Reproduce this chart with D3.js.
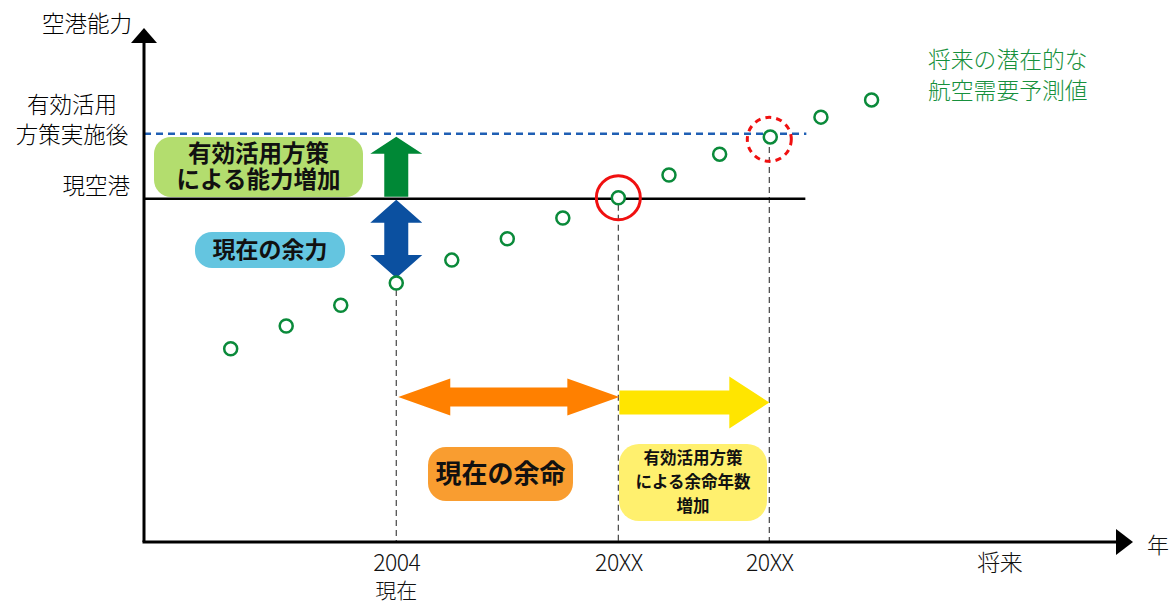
<!DOCTYPE html>
<html>
<head>
<meta charset="utf-8">
<title>空港能力</title>
<script src="https://d3js.org/d3.v7.min.js"></script>
<style>
  body{margin:0;background:#fff;}
  svg{display:block;}
  text{font-family:"Noto Sans CJK JP","Noto Sans",sans-serif;}
</style>
</head>
<body>
<div id="chart"></div>
<script>
// demand forecast (time units 0-100 along the x axis, capacity units 0-100)
var years  = [8.9, 14.6, 20.2, 25.9, 31.6, 37.3, 43.0, 48.7, 53.9, 59.1, 64.3, 69.5, 74.7]
var demand = [38.1, 42.6, 46.7, 51.1, 55.6, 59.8, 63.9, 67.9, 72.4, 76.5, 79.9, 83.8, 87.2]

var capNow = 67.7      // 現空港
var capAfter = 80.5    // 有効活用方策実施後
var capLineEnd = 67.9

var tickPos = [25.9, 48.7, 64.2, 87.8]
var tickLabels = ['2004', '20XX', '20XX', '将来']
var yLabels = ['空港能力', '現空港']

var W = 1173, H = 605
var x = d3.scaleLinear().domain([0, 100]).range([144, 1118])
var y = d3.scaleLinear().domain([0, 100]).range([542, 35])

var svg = d3.select('#chart').append('svg').attr('width', W).attr('height', H)

// arrow polygon from (x1,y1) to (x2,y2)
function arrowPath(x1, y1, x2, y2, shaft, head, headLen, both){
  var dx = x2 - x1, dy = y2 - y1
  var L = Math.sqrt(dx*dx + dy*dy)
  var ux = dx/L, uy = dy/L, nx = -uy, ny = ux
  function p(a, b){ return [x1 + ux*a + nx*b, y1 + uy*a + ny*b] }
  var s = shaft/2, h = head/2
  var pts = []
  if(both){
    pts.push(p(0, 0), p(headLen, h), p(headLen, s))
  } else {
    pts.push(p(0, s))
  }
  pts.push(p(L - headLen, s), p(L - headLen, h), p(L, 0), p(L - headLen, -h), p(L - headLen, -s))
  if(both){
    pts.push(p(headLen, -s), p(headLen, -h))
  } else {
    pts.push(p(0, -s))
  }
  return 'M' + pts.map(function(d){ return d.join(',') }).join('L') + 'Z'
}

// vertical guide lines
var guides = [[years[3], demand[3]], [years[7], demand[7]], [tickPos[2], capAfter - 1.2]]
svg.selectAll('line.guide').data(guides).enter().append('line')
  .attr('class', 'guide')
  .attr('x1', function(d){ return x(d[0]) }).attr('x2', function(d){ return x(d[0]) })
  .attr('y1', function(d){ return y(d[1]) + 7 }).attr('y2', y(0))
  .attr('stroke', '#444').attr('stroke-width', 1.2).attr('stroke-dasharray', '6,4')

// capacity lines
svg.append('line')
  .attr('x1', x(0)).attr('x2', x(68.0)).attr('y1', y(capAfter)).attr('y2', y(capAfter))
  .attr('stroke', '#1f5fb4').attr('stroke-width', 2.5).attr('stroke-dasharray', '7,5')
svg.append('line')
  .attr('x1', x(0)).attr('x2', x(capLineEnd)).attr('y1', y(capNow)).attr('y2', y(capNow))
  .attr('stroke', '#000').attr('stroke-width', 2.5)

// axes
svg.append('line').attr('x1', x(0)).attr('x2', x(0)).attr('y1', y(0)).attr('y2', y(100) + 6)
  .attr('stroke', '#000').attr('stroke-width', 3)
svg.append('path').attr('d', 'M' + (x(0) - 13) + ',' + (y(100) + 8) + 'L' + x(0) + ',' + (y(100) - 7) + 'L' + (x(0) + 13) + ',' + (y(100) + 8) + 'Z')
  .attr('fill', '#000')
svg.append('line').attr('x1', x(0) - 1.5).attr('x2', x(100) + 2).attr('y1', y(0)).attr('y2', y(0))
  .attr('stroke', '#000').attr('stroke-width', 3)
svg.append('path').attr('d', 'M' + (x(100) - 2) + ',' + (y(0) - 13) + 'L' + (x(100) + 15) + ',' + y(0) + 'L' + (x(100) - 2) + ',' + (y(0) + 13) + 'Z')
  .attr('fill', '#000')

var xAxis = svg.append('g').attr('transform', 'translate(0,' + y(0) + ')')
  .call(d3.axisBottom(x).tickValues(tickPos).tickSize(0).tickPadding(13)
    .tickFormat(function(d, i){ return tickLabels[i] }))
xAxis.select('.domain').remove()
xAxis.selectAll('text').attr('font-size', 23).attr('fill', '#111').attr('font-weight', 300)
  .attr('font-family', '"Noto Sans CJK JP",sans-serif').attr('letter-spacing', -0.5)
svg.append('text').attr('x', x(tickPos[0])).attr('y', 598).attr('text-anchor', 'middle')
  .attr('font-size', 21).attr('font-weight', 300).attr('fill', '#111').text('現在')
svg.append('text').attr('x', 1158).attr('y', 553).attr('text-anchor', 'middle')
  .attr('font-size', 22).attr('font-weight', 300).attr('fill', '#111').text('年')

// y side labels
svg.append('text').attr('x', 132).attr('y', 32).attr('text-anchor', 'end')
  .attr('font-size', 22.5).attr('font-weight', 300).text(yLabels[0])
svg.append('text').attr('x', 72).attr('y', 113).attr('text-anchor', 'middle')
  .attr('font-size', 22.5).attr('font-weight', 300).text('有効活用')
svg.append('text').attr('x', 72).attr('y', 143).attr('text-anchor', 'middle')
  .attr('font-size', 22.5).attr('font-weight', 300).text('方策実施後')
svg.append('text').attr('x', 130).attr('y', 194).attr('text-anchor', 'end')
  .attr('font-size', 22.5).attr('font-weight', 300).text(yLabels[1])

// arrows
var xa = x(years[3])
svg.append('path').attr('d', arrowPath(xa, y(capNow) - 2, xa, y(capAfter) + 3, 24, 52, 17, false))
  .attr('fill', '#008836')
svg.append('path').attr('d', arrowPath(xa, y(capNow) + 1, xa, y(demand[3]) - 5, 24, 52, 23, true))
  .attr('fill', '#0b50a0')
var yo = y(28.6)
svg.append('path').attr('d', arrowPath(x(years[3]) + 2, yo, x(years[7]) + 1, yo, 19, 37, 52, true))
  .attr('fill', '#ff8000')
var yy = y(27.5)
svg.append('path').attr('d', arrowPath(x(years[7]) + 1, yy, x(tickPos[2]), yy, 24, 52, 40, false))
  .attr('fill', '#ffe500')

// label boxes
function box(x0, y0, w, h, r, fill, lines, size, weight, lineH){
  var g = svg.append('g')
  g.append('rect').attr('x', x0).attr('y', y0).attr('width', w).attr('height', h)
    .attr('rx', r).attr('fill', fill)
  var cy = y0 + h/2 - (lines.length - 1) * lineH / 2
  lines.forEach(function(t, i){
    g.append('text').attr('x', x0 + w/2).attr('y', cy + i*lineH)
      .attr('dy', '0.36em').attr('text-anchor', 'middle')
      .attr('font-size', size).attr('font-weight', weight).attr('fill', '#111').text(t)
  })
}
box(154, 137, 209, 60, 17, '#b3dd6e', ['有効活用方策', 'による能力増加'], 23.5, 700, 26)
box(195, 232, 150, 36, 17, '#64c5e0', ['現在の余力'], 23, 700, 26)
box(428, 447, 145, 54, 18, '#f99d30', ['現在の余命'], 26, 700, 26)
box(619, 444, 148, 77, 20, '#fff06e', ['有効活用方策', 'による余命年数', '増加'], 16.5, 700, 24)

// red rings
svg.append('circle').attr('cx', x(years[7])).attr('cy', y(demand[7])).attr('r', 22)
  .attr('fill', 'none').attr('stroke', '#f01010').attr('stroke-width', 3)
svg.append('circle').attr('cx', x(tickPos[2])).attr('cy', y(capAfter) + 5.5).attr('r', 22)
  .attr('fill', 'none').attr('stroke', '#f01010').attr('stroke-width', 3).attr('stroke-dasharray', '6,5')

// demand points
svg.selectAll('circle.pt').data(years).enter().append('circle')
  .attr('class', 'pt')
  .attr('cx', function(d){ return x(d) })
  .attr('cy', function(d, i){ return y(demand[i]) })
  .attr('r', 6.5)
  .attr('fill', '#fff').attr('stroke', '#0a8a3a').attr('stroke-width', 2.5)

// legend text
svg.append('text').attr('x', 928).attr('y', 68).attr('font-size', 22.8).attr('font-weight', 300)
  .attr('fill', '#16903c').text('将来の潜在的な')
svg.append('text').attr('x', 928).attr('y', 99).attr('font-size', 22.8).attr('font-weight', 300)
  .attr('fill', '#16903c').text('航空需要予測値')
</script>
</body>
</html>
